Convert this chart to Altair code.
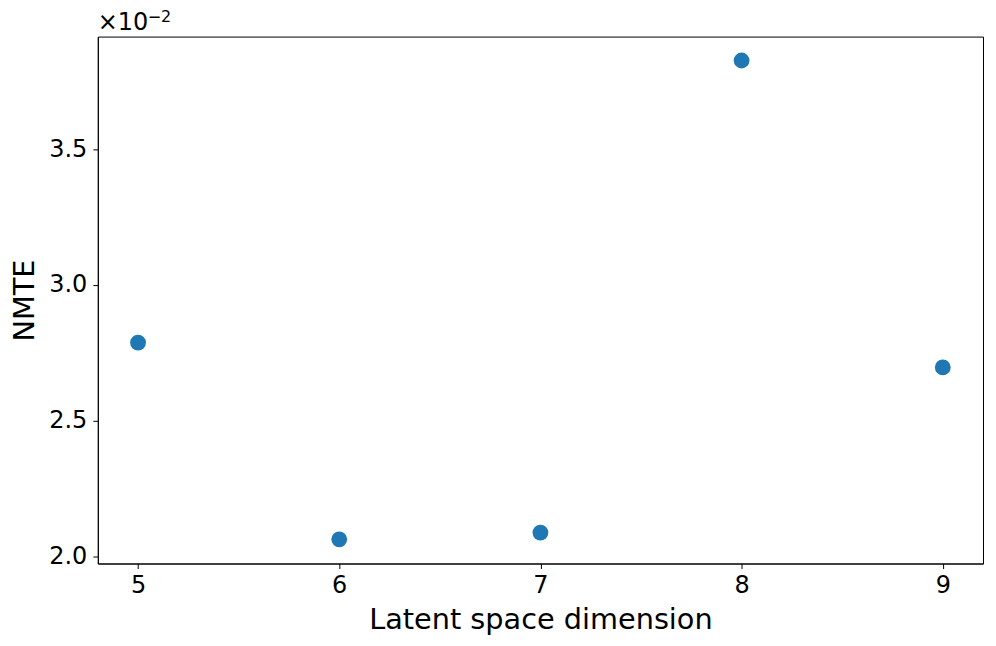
import altair as alt
import pandas as pd

# Latent space dimension vs NMTE
dims = [5, 6, 7, 8, 9]
nmte = [0.02787, 0.02063, 0.02088, 0.03826, 0.02696]
y_ticks = [0.02, 0.025, 0.03, 0.035]
x_ticks = [5, 6, 7, 8, 9]

df = pd.DataFrame({"dim": dims, "nmte": nmte})

FONT = "DejaVu Sans"

points = alt.Chart(df).mark_circle(size=250, color="#1f77b4", opacity=1).encode(
    x=alt.X("dim:Q", scale=alt.Scale(domain=[4.8, 9.2], nice=False, zero=False),
            axis=alt.Axis(title="Latent space dimension", values=x_ticks,
                          format="d", grid=False, tickSize=5, tickColor="black",
                          domainColor="black", labelFontSize=24, titleFontSize=28.8,
                          labelFont=FONT, titleFont=FONT, labelColor="black",
                          titleColor="black", titleFontWeight="normal",
                          labelPadding=5, titlePadding=8)),
    y=alt.Y("nmte:Q", scale=alt.Scale(domain=[0.01974, 0.03914], nice=False, zero=False),
            axis=alt.Axis(title="NMTE", values=y_ticks,
                          labelExpr="format(datum.value*100, '.1f')",
                          grid=False, tickSize=5, tickColor="black",
                          domainColor="black", labelFontSize=24, titleFontSize=28.8,
                          labelFont=FONT, titleFont=FONT, labelColor="black",
                          titleColor="black", titleFontWeight="normal",
                          labelPadding=6, titlePadding=9)),
)

# offset-exponent label "×10^-2" above the axis
base = alt.Chart(pd.DataFrame({"t": ["×10"]})).mark_text(
    align="left", baseline="alphabetic", fontSize=24, font=FONT, color="black"
).encode(x=alt.value(0), y=alt.value(-7), text="t:N")
sup = alt.Chart(pd.DataFrame({"t": ["−2"]})).mark_text(
    align="left", baseline="alphabetic", fontSize=16, font=FONT, color="black"
).encode(x=alt.value(50), y=alt.value(-15), text="t:N")

chart = alt.layer(points, base, sup).properties(
    width=887,
    height=528,
    autosize=alt.AutoSizeParams(type="none"),
    padding={"left": 90, "top": 28, "right": 5, "bottom": 80},
).configure_view(stroke="black", strokeWidth=1).configure_axis(domainWidth=1, tickWidth=1)

chart.save("out.html", embed_options={"renderer": "svg", "actions": False})
